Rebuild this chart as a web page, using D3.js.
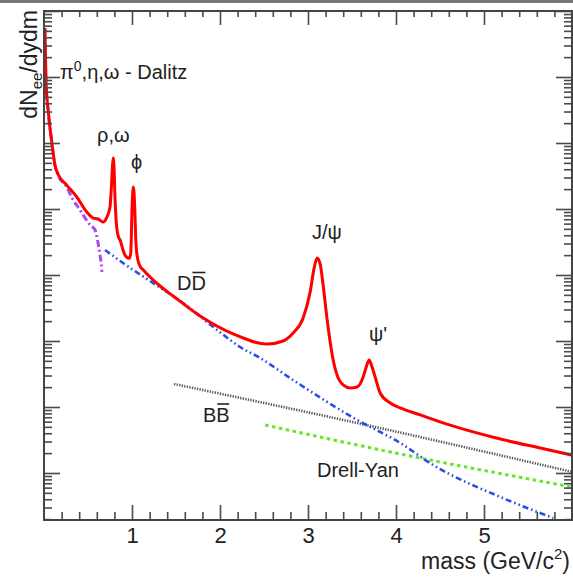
<!DOCTYPE html>
<html><head><meta charset="utf-8">
<script src="https://cdn.jsdelivr.net/npm/d3@7"></script>
<style>
body{margin:0;background:#fff}
text{font-family:"Liberation Sans",Arial,Helvetica,sans-serif;fill:#222}
</style></head>
<body><svg id="c" width="573" height="581"></svg>
<script>
// ---- data (mass in GeV/c^2, yield in arbitrary units) ----
const totalMass = [0.01,0.023,0.049,0.088,0.125,0.163,0.258,0.372,0.486,0.557,0.614,0.671,0.716,0.750,0.767,0.779,0.787,0.796,0.807,0.822,0.845,0.864,0.898,0.921,0.970,0.986,1.001,1.015,1.031,1.043,1.054,1.084,1.129,1.205,1.319,1.467,1.774,2.149,2.536,2.717,2.831,2.945,3.024,3.070,3.104,3.138,3.172,3.218,3.286,3.343,3.400,3.479,3.559,3.627,3.661,3.695,3.729,3.763,3.820,3.934,4.048,4.275,4.616,5.185,5.640,6.0];
const totalYield = [5.5e-1,8.4e-2,2.95e-2,1.04e-2,4.6e-3,3.3e-3,2.3e-3,1.52e-3,9.0e-4,7.3e-4,7.05e-4,6.35e-4,7.6e-4,1.07e-3,2.3e-3,4.6e-3,5.9e-3,4.2e-3,1.47e-3,6.1e-4,3.8e-4,3.4e-4,2.4e-4,2.0e-4,1.79e-4,2.16e-4,1.07e-3,2.15e-3,1.07e-3,3.4e-4,2.16e-4,1.42e-4,1.19e-4,9.33e-5,6.81e-5,4.81e-5,2.39e-5,1.28e-5,9.0e-6,1.0e-5,1.32e-5,2.23e-5,5.5e-5,1.28e-4,1.81e-4,1.47e-4,7.0e-5,2.08e-5,5.15e-6,2.75e-6,2.16e-6,1.94e-6,2.01e-6,2.85e-6,4.0e-6,5.15e-6,4.0e-6,2.85e-6,1.63e-6,1.15e-6,9.7e-7,7.6e-7,5.3e-7,3.27e-7,2.39e-7,1.87e-7];

const dalitzMass = [0.01,0.023,0.049,0.088,0.125,0.163,0.258,0.318,0.409,0.523,0.580,0.608,0.631,0.648,0.659];
const dalitzYield = [5.5e-1,8.4e-2,2.95e-2,1.04e-2,4.55e-3,3.2e-3,2.15e-3,1.47e-3,9.66e-4,5.73e-4,4.81e-4,3.39e-4,2.23e-4,1.57e-4,1.11e-4];

const ddMass = [0.694,0.898,1.205,1.580,1.967,2.229,2.456,2.831,3.559,4.048,4.423,5.185,5.787];
const ddYield = [2.39e-4,1.52e-4,8.11e-5,3.77e-5,1.47e-5,8.11e-6,5.52e-6,2.56e-6,6.36e-7,2.85e-7,1.32e-7,4.33e-8,2.08e-8];

const bbMass = [1.478,3.559,6.0];
const bbYield = [2.23e-6,5.72e-7,1.04e-7];

const dyMass = [2.513,4.048,6.0];
const dyYield = [5.33e-7,1.94e-7,6.14e-8];

const xMajorTicks = [1,2,3,4,5];
const xTickLabels = ["1","2","3","4","5"];
const xMinorTicks = [0.2,0.4,0.6,0.8,1.2,1.4,1.6,1.8,2.2,2.4,2.6,2.8,3.2,3.4,3.6,3.8,4.2,4.4,4.6,4.8,5.2,5.4,5.6,5.8];
const yDecades = [1,1e-1,1e-2,1e-3,1e-4,1e-5,1e-6,1e-7];
const yMinorMultipliers = [2,3,4,5,6,7,8,9];
const yDomain = [1.94e-8, 1];
const xDomain = [0, 6];

// ---- layout ----
const W = 573, H = 581;
const X0 = 44, X1 = 572, YT = 11, YB = 520;
const svg = d3.select("#c");
const x = d3.scaleLinear().domain(xDomain).range([X0, X1]);
const y = d3.scaleLog().domain(yDomain).range([YB, YT]);

svg.append("rect").attr("x",0).attr("y",0).attr("width",W).attr("height",3).attr("fill","#777");

svg.append("defs").append("clipPath").attr("id","clip")
  .append("rect").attr("x",X0).attr("y",YT).attr("width",X1-X0).attr("height",YB-YT);

const line = d3.line().x(d=>x(d[0])).y(d=>y(d[1])).curve(d3.curveMonotoneX);
const zip = (a,b)=>a.map((v,i)=>[v,b[i]]);

const g = svg.append("g").attr("clip-path","url(#clip)");
function drawSeries(m, v, color, width, dash){
  g.append("path").datum(zip(m,v)).attr("d",line)
   .attr("fill","none").attr("stroke",color).attr("stroke-width",width)
   .attr("stroke-dasharray",dash||null).attr("stroke-linejoin","round");
}
drawSeries(bbMass, bbYield, "#555", 2.6, "1.3,1.3");
drawSeries(dyMass, dyYield, "#66e62a", 3, "3.5,3.5");
drawSeries(ddMass, ddYield, "#2a4fe8", 2.6, "6,3,1.6,3,1.6,3");
drawSeries(dalitzMass, dalitzYield, "#a94cf5", 3, "7,3,2,3");
drawSeries(totalMass, totalYield, "#ff0000", 3);

// ---- axes ----
const minorY = [];
yDecades.concat([1e-8]).forEach(d=>{ if(d<1) yMinorMultipliers.forEach(k=>{const v=k*d; if(v>=yDomain[0] && v<=yDomain[1]) minorY.push(v);}); });

function styleAxis(sel){
  sel.select(".domain").remove();
  sel.selectAll(".tick line").attr("stroke","#4a4a4a").attr("stroke-width",1.6);
}
// bottom
svg.append("g").attr("transform",`translate(0,${YB})`)
  .call(d3.axisBottom(x).tickValues(xMajorTicks).tickSize(-15).tickPadding(7)
        .tickFormat((d,i)=>xTickLabels[i]))
  .call(styleAxis)
  .call(s=>s.selectAll("text").attr("font-size",22).attr("fill","#222")
        .style("font-family",'"Liberation Sans",Arial,sans-serif'));
svg.append("g").attr("transform",`translate(0,${YB})`)
  .call(d3.axisBottom(x).tickValues(xMinorTicks).tickSize(-8).tickFormat(""))
  .call(styleAxis);
// top
svg.append("g").attr("transform",`translate(0,${YT})`)
  .call(d3.axisBottom(x).tickValues(xMajorTicks).tickSize(14).tickFormat(""))
  .call(styleAxis);
svg.append("g").attr("transform",`translate(0,${YT})`)
  .call(d3.axisBottom(x).tickValues(xMinorTicks).tickSize(6).tickFormat(""))
  .call(styleAxis);
// left
svg.append("g").attr("transform",`translate(${X0},0)`)
  .call(d3.axisRight(y).tickValues(yDecades).tickSize(16).tickFormat(""))
  .call(styleAxis);
svg.append("g").attr("transform",`translate(${X0},0)`)
  .call(d3.axisRight(y).tickValues(minorY).tickSize(8).tickFormat(""))
  .call(styleAxis);
// right
svg.append("g").attr("transform",`translate(${X1},0)`)
  .call(d3.axisLeft(y).tickValues(yDecades).tickSize(16).tickFormat(""))
  .call(styleAxis);
svg.append("g").attr("transform",`translate(${X1},0)`)
  .call(d3.axisLeft(y).tickValues(minorY).tickSize(8).tickFormat(""))
  .call(styleAxis);

// frame
svg.append("rect").attr("x",X0).attr("y",YT).attr("width",X1-X0).attr("height",YB-YT)
  .attr("fill","none").attr("stroke","#444").attr("stroke-width",2);

// ---- titles ----
const yt = svg.append("text").attr("transform","translate(37,10) rotate(-90)")
  .attr("text-anchor","end").attr("font-size",23);
yt.append("tspan").text("dN");
yt.append("tspan").attr("font-size",15).attr("dy",5).text("ee");
yt.append("tspan").attr("dy",-5).text("/dydm");

const xt = svg.append("text").attr("x",570).attr("y",569).attr("text-anchor","end").attr("font-size",23);
xt.append("tspan").text("mass (GeV/c");
xt.append("tspan").attr("font-size",15).attr("dy",-10).text("2");
xt.append("tspan").attr("dy",10).text(")");

// ---- annotations ----
const dal = svg.append("text").attr("x",60).attr("y",79).attr("font-size",20);
dal.append("tspan").text("π");
dal.append("tspan").attr("font-size",14).attr("dy",-8).text("0");
dal.append("tspan").attr("dy",8).text(",η,ω - Dalitz");

svg.append("text").attr("x",97).attr("y",142).attr("font-size",20).text("ρ,ω");
svg.append("text").attr("x",131).attr("y",169).attr("font-size",20).text("ϕ");
svg.append("text").attr("x",312).attr("y",239).attr("font-size",20).text("J/ψ");
svg.append("text").attr("x",369).attr("y",341).attr("font-size",20).text("ψ'");
svg.append("text").attr("x",317).attr("y",477).attr("font-size",20).text("Drell-Yan");

function barLabel(xp, yp, ch){
  const t = svg.append("text").attr("x",xp).attr("y",yp).attr("font-size",20).text(ch+ch);
  const n = t.node();
  const s = n.getStartPositionOfChar(1).x, e = n.getEndPositionOfChar(1).x;
  svg.append("line").attr("x1",s+1).attr("x2",e-0.5).attr("y1",yp-17.5).attr("y2",yp-17.5)
    .attr("stroke","#222").attr("stroke-width",1.6);
}
barLabel(177, 290, "D");
barLabel(203, 421.5, "B");
</script>
</body></html>
